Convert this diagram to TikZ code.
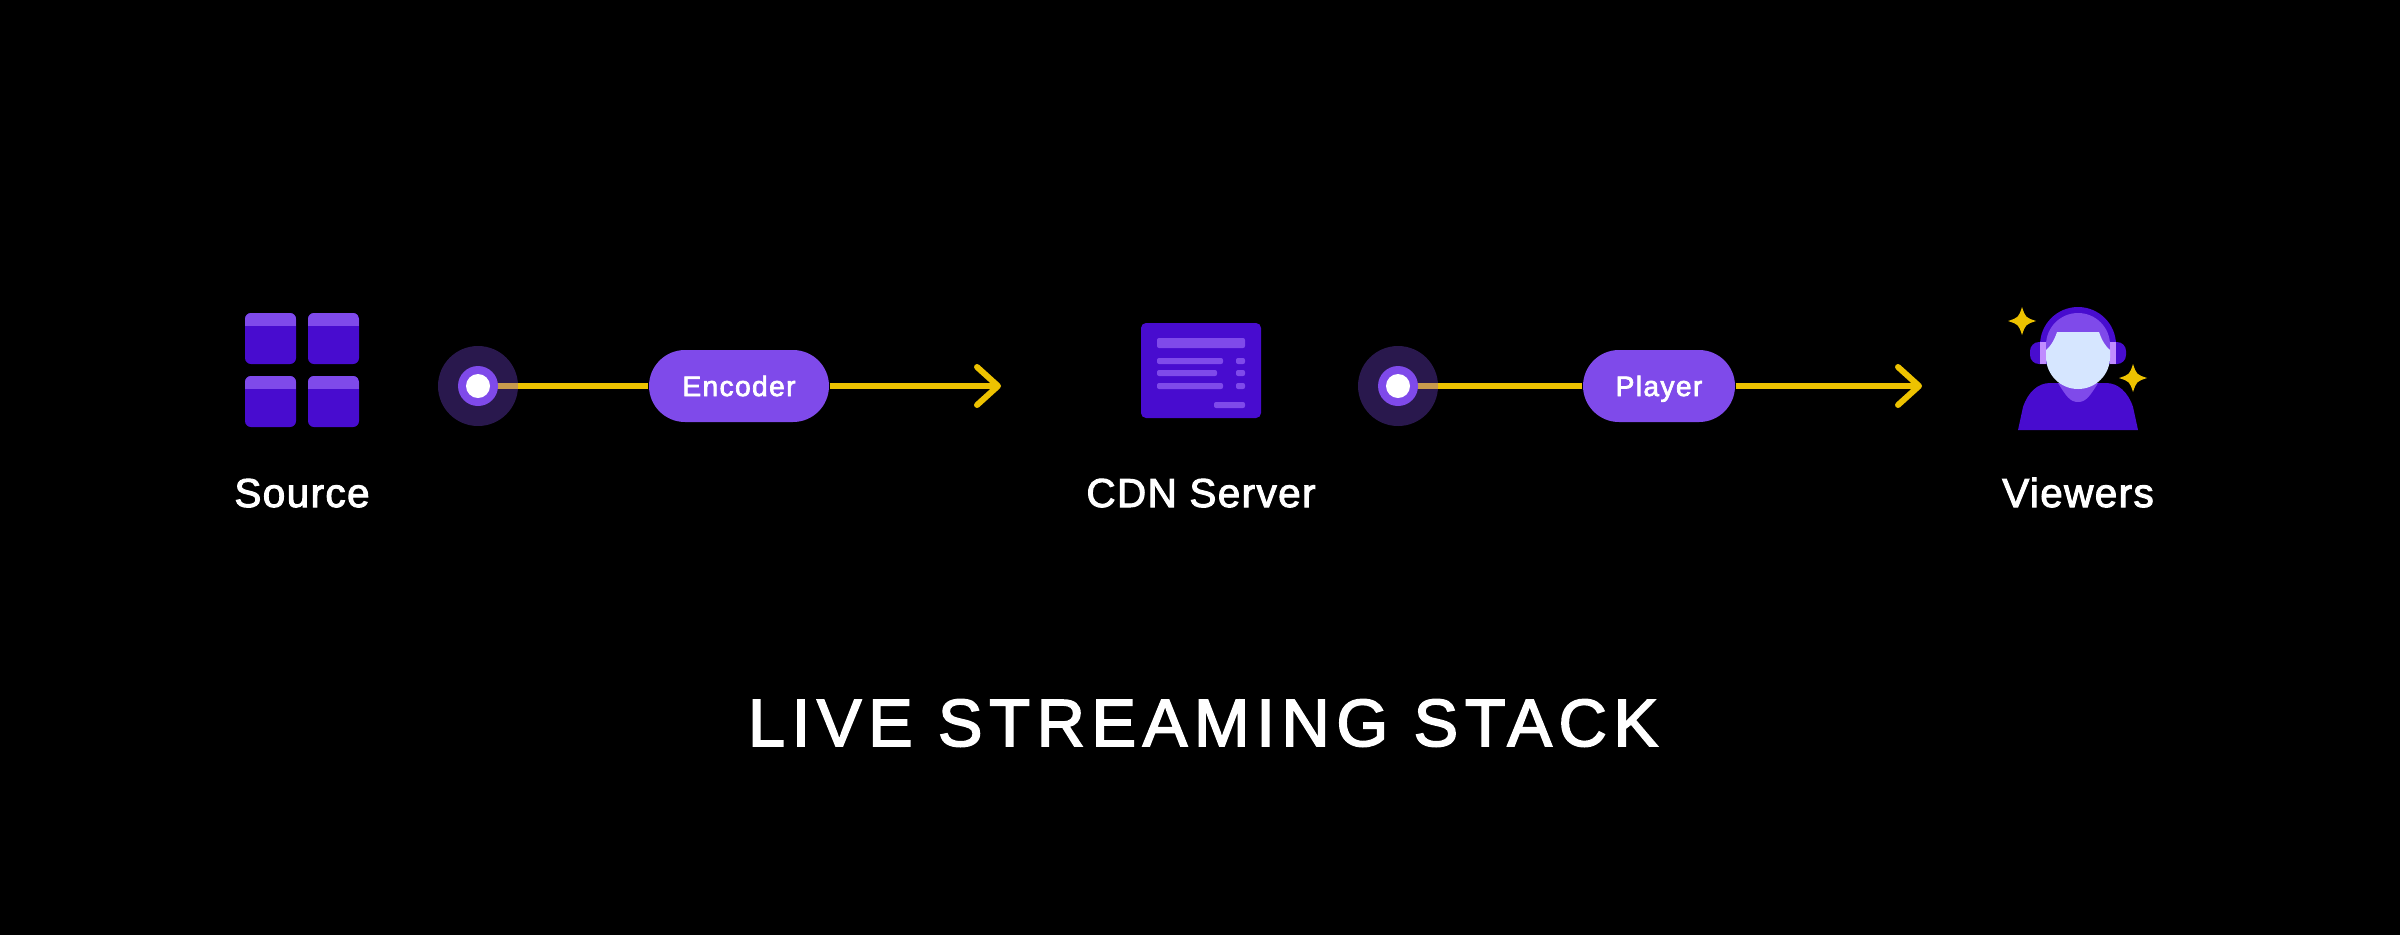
\documentclass[tikz,border=0pt]{standalone}
\usepackage{fontspec}
\setmainfont{Liberation Sans}
\newfontfamily\labelfont[RawFeature={embolden=2.5}]{Liberation Sans}
\usetikzlibrary{arrows.meta, calc}

\definecolor{deepviolet}{HTML}{480CCF}
\definecolor{lightviolet}{HTML}{7F4AEA}
\definecolor{paleviolet}{HTML}{C08CFF}
\definecolor{facetint}{HTML}{D6E6FF}
\definecolor{flowyellow}{HTML}{EDC200}

\tikzset{
    tile/.style={fill=deepviolet, rounded corners=0.6mm},
    bar/.style={fill=lightviolet, rounded corners=0.2mm},
    flowline/.style={draw=flowyellow, line width=0.06cm},
    flowarrow/.style={flowline, -{Straight Barb[length=0.21cm, width=0.38cm, round]}},
    pill/.style={fill=lightviolet, rounded corners=0.36cm, minimum height=0.72cm, inner sep=0pt, text=white, text height=5.7pt, text depth=0pt, font=\fontsize{8pt}{9pt}\labelfont\addfontfeature{LetterSpace=5}},
    halo/.style={circle, fill=lightviolet, fill opacity=0.33, minimum size=0.8cm, inner sep=0pt},
    ring/.style={circle, fill=lightviolet, minimum size=0.4cm, inner sep=0pt},
    core/.style={circle, fill=white, minimum size=0.24cm, inner sep=0pt},
    caption/.style={text=white, anchor=base, font=\fontsize{11.5pt}{14pt}\labelfont\addfontfeature{LetterSpace=3.5}, inner sep=0pt},
    sparkle/.style={fill=flowyellow}
}

\newcommand{\tilebox}[2]{
    \fill[tile] (#1,#2) rectangle ++(0.51,-0.51);
    \begin{scope}
        \clip[rounded corners=0.6mm] (#1,#2) rectangle ++(0.51,-0.51);
        \fill[lightviolet] (#1,#2) rectangle ++(0.51,-0.13);
    \end{scope}
}
\newcommand{\sparkleat}[2]{
    \fill[sparkle] (#1,#2+0.14) .. controls (#1+0.035,#2+0.035) .. (#1+0.14,#2)
        .. controls (#1+0.035,#2-0.035) .. (#1,#2-0.14)
        .. controls (#1-0.035,#2-0.035) .. (#1-0.14,#2)
        .. controls (#1-0.035,#2+0.035) .. cycle;
}

\begin{document}
\begin{tikzpicture}
    \useasboundingbox (0,0) rectangle (24,9.34);
    \fill[black] (-0.1,-0.1) rectangle (24.1,9.44);

    % source
    \tilebox{2.45}{6.21}
    \tilebox{3.08}{6.21}
    \tilebox{2.45}{5.58}
    \tilebox{3.08}{5.58}
    \node[caption] (source) at (3.02,4.27) {Source};

    % first link
    \coordinate (dotA) at (4.78,5.48);
    \coordinate (tipA) at (10.01,5.48);
    \node[pill, minimum width=1.8cm] (encoder) at (7.39,5.48) {Encoder};
    \draw[flowline] (dotA) -- (encoder);
    \draw[flowarrow] (encoder) -- (tipA);
    \node[halo] (haloA) at (dotA) {};
    \node[ring] (ringA) at (dotA) {};
    \node[core] (coreA) at (dotA) {};

    % cdn server
    \fill[deepviolet, rounded corners=0.5mm] (11.41,6.11) rectangle (12.61,5.16);
    \fill[bar] (11.57,5.96) rectangle (12.45,5.86);
    \fill[bar] (11.57,5.76) rectangle (12.23,5.70);
    \fill[bar] (11.57,5.64) rectangle (12.17,5.58);
    \fill[bar] (11.57,5.51) rectangle (12.23,5.45);
    \fill[bar] (12.36,5.76) rectangle (12.45,5.70);
    \fill[bar] (12.36,5.64) rectangle (12.45,5.58);
    \fill[bar] (12.36,5.51) rectangle (12.45,5.45);
    \fill[bar] (12.14,5.32) rectangle (12.45,5.26);
    \node[caption] (server) at (12.01,4.27) {CDN Server};

    % second link
    \coordinate (dotB) at (13.98,5.48);
    \coordinate (tipB) at (19.22,5.48);
    \node[pill, minimum width=1.52cm] (player) at (16.59,5.48) {Player};
    \draw[flowline] (dotB) -- (player);
    \draw[flowarrow] (player) -- (tipB);
    \node[halo] (haloB) at (dotB) {};
    \node[ring] (ringB) at (dotB) {};
    \node[core] (coreB) at (dotB) {};

    % viewers
    \fill[deepviolet, rounded corners=0.9mm] (20.30,5.92) rectangle (21.26,5.70);
    \fill[deepviolet] (20.40,5.89) arc (180:0:0.38) -- cycle;
    \fill[lightviolet] (20.46,5.84) -- (20.46,5.89) arc (180:0:0.32) -- (21.10,5.84) -- cycle;
    \fill[paleviolet] (20.40,5.92) rectangle (20.46,5.70);
    \fill[paleviolet] (21.10,5.92) rectangle (21.16,5.70);
    \fill[deepviolet] (20.18,5.04) -- (20.23,5.27) .. controls (20.28,5.42) and (20.38,5.51) .. (20.50,5.51)
        -- (21.06,5.51) .. controls (21.18,5.51) and (21.28,5.42) .. (21.33,5.27) -- (21.38,5.04) -- cycle;
    \fill[lightviolet] (20.58,5.51) .. controls (20.66,5.38) and (20.70,5.32) .. (20.78,5.32)
        .. controls (20.86,5.32) and (20.90,5.38) .. (20.98,5.51) -- cycle;
    \fill[facetint] (20.57,6.02) -- (20.99,6.02) .. controls (21.02,5.93) and (21.06,5.87) .. (21.10,5.84)
        -- (21.10,5.77) arc (0:-180:0.32) -- (20.46,5.84) .. controls (20.50,5.87) and (20.54,5.93) .. cycle;
    \sparkleat{20.22}{6.13}
    \sparkleat{21.33}{5.56}
    \node[caption] (viewers) at (20.78,4.27) {Viewers};

    % title
    \node[text=white, anchor=base, inner sep=0pt, font=\fontsize{19pt}{24pt}\labelfont\addfontfeature{LetterSpace=10}] (title) at (12.03,1.88) {LIVE STREAMING STACK};
\end{tikzpicture}
\end{document}
